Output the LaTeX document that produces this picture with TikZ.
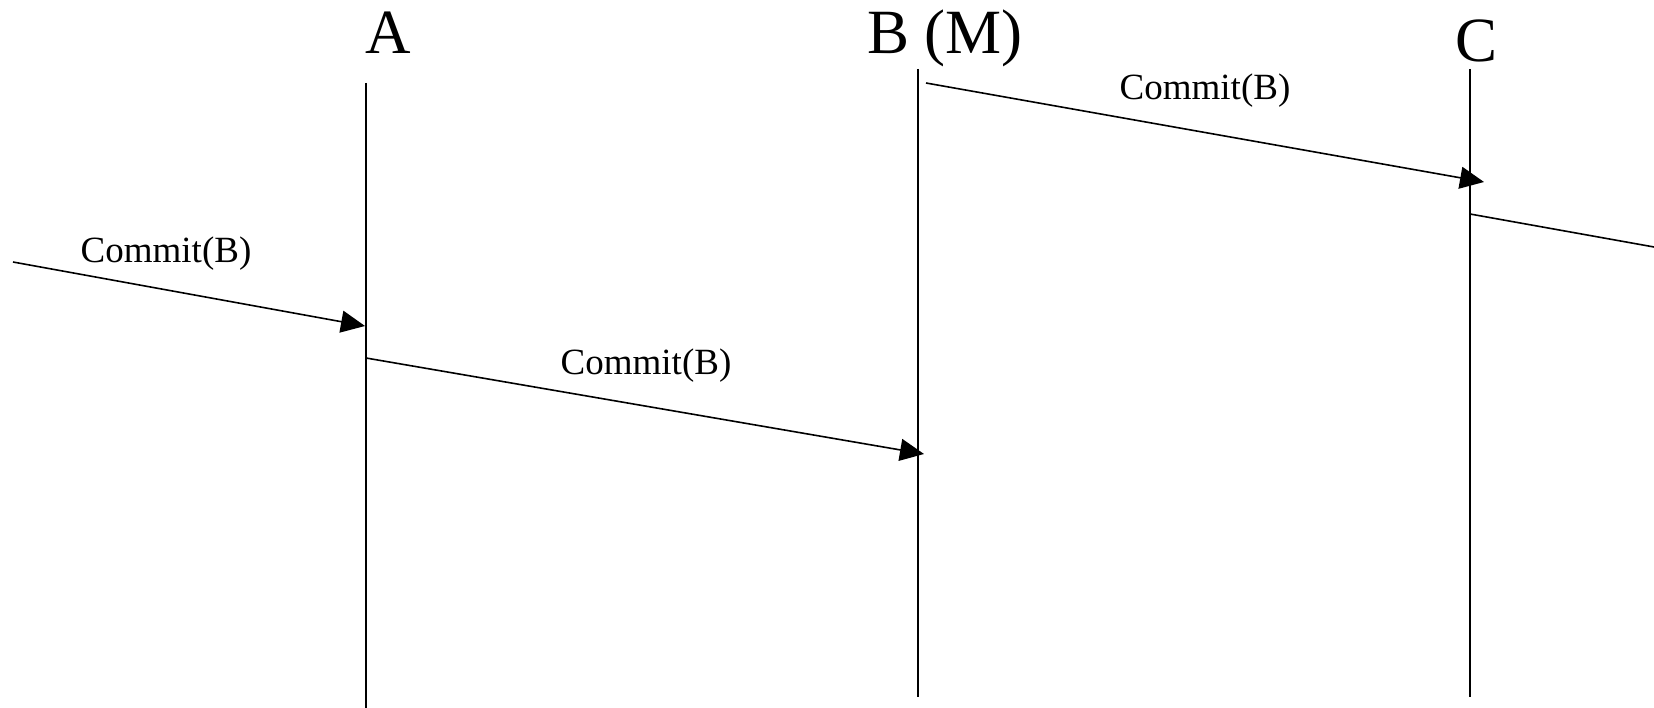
\documentclass[tikz,border=0pt]{standalone}
\usepackage{fontspec}
\setmainfont{Liberation Serif}
\usetikzlibrary{arrows.meta}
\begin{document}
\begin{tikzpicture}[x=1pt,y=-1pt,
  lifeline/.style={line width=1.6pt},
  msg/.style={line width=1.6pt,-{Triangle[length=24pt,width=22pt]}},
  msgline/.style={line width=1.6pt},
  procname/.style={font=\fontsize{63}{63}\selectfont,anchor=base,inner sep=0pt},
  msglabel/.style={font=\fontsize{37}{37}\selectfont,anchor=base,inner sep=0pt}]
\useasboundingbox (0,0) rectangle (1654,708);

% process names
\node[procname] (nA) at (388,54) {A};
\node[procname] (nB) at (945,54) {B (M)};
\node[procname] (nC) at (1476,62) {C};

% lifelines
\coordinate (Atop) at (366,83);  \coordinate (Abot) at (366,708);
\coordinate (Btop) at (918,69);  \coordinate (Bbot) at (918,697);
\coordinate (Ctop) at (1470,69); \coordinate (Cbot) at (1470,697);
\draw[lifeline] (Atop) -- (Abot);
\draw[lifeline] (Btop) -- (Bbot);
\draw[lifeline] (Ctop) -- (Cbot);

% messages
\coordinate (m1s) at (13,262);   \coordinate (m1e) at (365,326);
\coordinate (m2s) at (366,358);  \coordinate (m2e) at (924,454);
\coordinate (m3s) at (926,83);   \coordinate (m3e) at (1484,182);
\coordinate (m4s) at (1470,214); \coordinate (m4e) at (1654,247);
\draw[msg] (m1s) -- (m1e);
\draw[msg] (m2s) -- (m2e);
\draw[msg] (m3s) -- (m3e);
\draw[msgline] (m4s) -- (m4e);

% message labels
\node[msglabel] (l1) at (166,263) {Commit(B)};
\node[msglabel] (l2) at (646,374) {Commit(B)};
\node[msglabel] (l3) at (1205,100) {Commit(B)};
\end{tikzpicture}
\end{document}
